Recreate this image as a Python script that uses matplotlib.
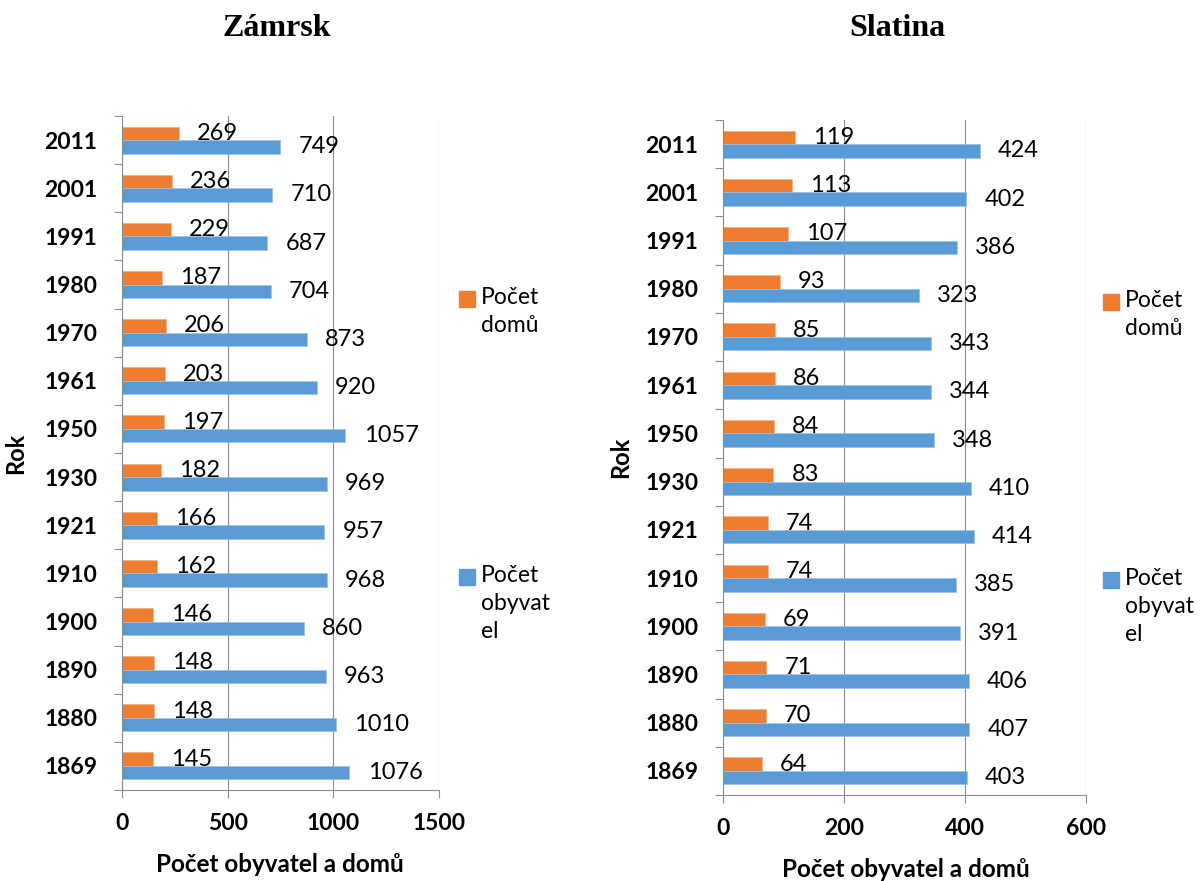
import numpy as np
import matplotlib
matplotlib.use("Agg")
import matplotlib.pyplot as plt
from matplotlib.patches import Rectangle

# Data (bottom to top as in the chart)
roky = ["1869", "1880", "1890", "1900", "1910", "1921", "1930",
        "1950", "1961", "1970", "1980", "1991", "2001", "2011"]

zamrsk_domy = [145, 148, 148, 146, 162, 166, 182, 197, 203, 206, 187, 229, 236, 269]
zamrsk_obyvatel = [1076, 1010, 963, 860, 968, 957, 969, 1057, 920, 873, 704, 687, 710, 749]

slatina_domy = [64, 70, 71, 69, 74, 74, 83, 84, 86, 85, 93, 107, 113, 119]
slatina_obyvatel = [403, 407, 406, 391, 385, 414, 410, 348, 344, 343, 323, 386, 402, 424]

zamrsk_ticks = [0, 500, 1000, 1500]
slatina_ticks = [0, 200, 400, 600]

ORANGE = "#ED7D31"
BLUE = "#5B9BD5"
GRID = "#8C8C8C"

plt.rcParams["font.family"] = ["Lato", "DejaVu Sans"]

fig = plt.figure(figsize=(12.04, 8.81), dpi=100)
W, H = 1204, 881


def px_axes(x0, x1, y_top, y_bot):
    return fig.add_axes([x0 / W, 1 - y_bot / H, (x1 - x0) / W, (y_bot - y_top) / H])


def draw_chart(ax, domy, obyvatel, ticks, ylab_x, xlab_xy):
    y = np.arange(len(roky))
    h = 0.28
    b_dom = ax.barh(y + h / 2, domy, height=h, color=ORANGE, edgecolor="#F4B183", linewidth=0.5)
    b_oby = ax.barh(y - h / 2, obyvatel, height=h, color=BLUE, edgecolor="#9DC3E6", linewidth=0.5)
    ax.bar_label(b_dom, padding=13, fontsize=17)
    ax.bar_label(b_oby, padding=13, fontsize=17)

    ax.set_xlim(ticks[0], ticks[-1])
    ax.set_ylim(-0.5, len(roky) - 0.5)
    ax.set_xticks(ticks)
    ax.set_xticklabels([str(t) for t in ticks], fontsize=16.5, fontweight="bold")
    ax.set_yticks(y)
    ax.set_yticklabels(roky, fontsize=16.5, fontweight="bold")
    ax.set_yticks(np.arange(-0.5, len(roky)), minor=True)

    ax.tick_params(axis="y", which="major", length=0, pad=18)
    ax.tick_params(axis="y", which="minor", length=5.5, width=0.8, color=GRID)
    ax.tick_params(axis="x", length=5.5, width=0.8, color=GRID, pad=11)

    ax.grid(axis="x", color=GRID, linewidth=0.8)
    ax.set_axisbelow(True)
    for s in ["top", "right"]:
        ax.spines[s].set_visible(False)
    for s in ["left", "bottom"]:
        ax.spines[s].set_color(GRID)
        ax.spines[s].set_linewidth(0.8)

    ax.set_ylabel("Rok", fontsize=17, fontweight="bold")
    ax.yaxis.set_label_coords(ylab_x, 0.5)
    ax.set_xlabel("Počet obyvatel a domů", fontsize=17.5, fontweight="bold")
    ax.xaxis.set_label_coords(*xlab_xy)


def draw_legend(x_sq, y_dom, y_oby):
    for color, ytop, text in [(ORANGE, y_dom, "Počet\ndomů"), (BLUE, y_oby, "Počet\nobyvat\nel")]:
        fig.add_artist(Rectangle((x_sq / W, 1 - (ytop + 16) / H), 16 / W, 16 / H,
                                 transform=fig.transFigure, color=color))
        fig.text((x_sq + 22) / W, 1 - (ytop - 4) / H, text, fontsize=16.5,
                 va="top", ha="left", linespacing=1.42)


ax1 = px_axes(122.3, 439, 116, 790)
draw_chart(ax1, zamrsk_domy, zamrsk_obyvatel, zamrsk_ticks, -0.3, (0.498, -0.093))

ax2 = px_axes(723.3, 1086, 120, 795)
draw_chart(ax2, slatina_domy, slatina_obyvatel, slatina_ticks, -0.252, (0.504, -0.093))

draw_legend(459, 291, 569)
draw_legend(1103, 294, 572)

fig.text(277 / W, 1 - 28 / H, "Zámrsk", fontsize=23, fontweight="bold",
         family="Liberation Serif", ha="center", va="center")
fig.text(897 / W, 1 - 28 / H, "Slatina", fontsize=23, fontweight="bold",
         family="Liberation Serif", ha="center", va="center")

fig.savefig("out.png", dpi=100)
